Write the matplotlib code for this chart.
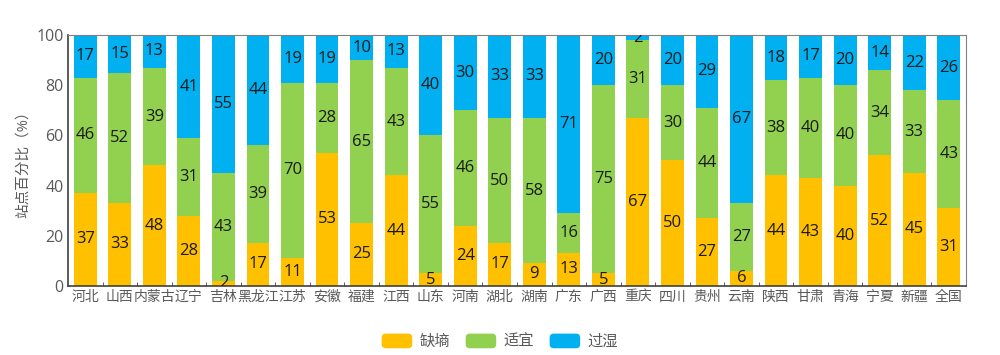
import numpy as np
import matplotlib.pyplot as plt
from matplotlib.ticker import FixedLocator
from matplotlib.patches import FancyBboxPatch
from matplotlib.legend_handler import HandlerPatch

plt.rcParams['font.family'] = ['Open Sans', 'Noto Sans CJK SC', 'DejaVu Sans']

# 各省站点墒情百分比
provinces = ["河北", "山西", "内蒙古", "辽宁", "吉林", "黑龙江", "江苏", "安徽", "福建", "江西",
             "山东", "河南", "湖北", "湖南", "广东", "广西", "重庆", "四川", "贵州", "云南",
             "陕西", "甘肃", "青海", "宁夏", "新疆", "全国"]
dry = [37, 33, 48, 28, 2, 17, 11, 53, 25, 44, 5, 24, 17, 9, 13, 5, 67, 50, 27, 6, 44, 43, 40, 52, 45, 31]
ok = [46, 52, 39, 31, 43, 39, 70, 28, 65, 43, 55, 46, 50, 58, 16, 75, 31, 30, 44, 27, 38, 40, 40, 34, 33, 43]
wet = [17, 15, 13, 41, 55, 44, 19, 19, 10, 13, 40, 30, 33, 33, 71, 20, 2, 20, 29, 67, 18, 17, 20, 14, 22, 26]

names = ["缺墒", "适宜", "过湿"]
colors = ["#FFC000", "#92D050", "#00B0F0"]


class RoundHandler(HandlerPatch):
    # legend keys with rounded corners
    def create_artists(self, legend, orig_handle, xdescent, ydescent, width, height, fontsize, trans):
        p = FancyBboxPatch((-xdescent, -ydescent), width, height,
                           boxstyle="round,pad=0,rounding_size=3",
                           facecolor=orig_handle.get_facecolor(), edgecolor='none',
                           transform=trans)
        return [p]


fig = plt.figure(figsize=(10, 3.55), dpi=100)
ax = fig.add_axes([0.068, 0.195, 0.898, 0.706])

x = np.arange(len(provinces))
bottom = np.zeros(len(provinces))
handles = []
for vals, name, c in zip([dry, ok, wet], names, colors):
    vals = np.array(vals)
    bars = ax.bar(x, vals, 0.66, bottom=bottom, color=c, label=name)
    handles.append(bars[0])
    for xi, b, v in zip(x, bottom, vals):
        ax.text(xi, b + v / 2, str(v), ha='center', va='center', fontsize=12,
                color='#1a1a1a', clip_on=True)
    bottom += vals

ax.set_xlim(-0.5, len(provinces) - 0.5)
ax.set_ylim(0, 100)
ax.set_yticks([0, 20, 40, 60, 80, 100])
ax.set_xticks(x)
ax.set_xticklabels(provinces)
ax.xaxis.set_minor_locator(FixedLocator(np.arange(0.5, len(provinces) - 1, 1)))
ax.tick_params(axis='x', which='major', length=0, pad=3, labelsize=10, labelcolor='#595959')
ax.tick_params(axis='x', which='minor', direction='in', length=3, color='#404040')
ax.tick_params(axis='y', length=0, labelsize=11.5, labelcolor='#595959', pad=3)
ax.set_ylabel("站点百分比（%）", fontsize=10.5, color='#595959', labelpad=4)

for s in ['top', 'right']:
    ax.spines[s].set_color('#808080')
    ax.spines[s].set_linewidth(0.8)
for s in ['left', 'bottom']:
    ax.spines[s].set_color('#404040')
    ax.spines[s].set_linewidth(1.2)

leg = fig.legend(handles, names, loc='lower center', bbox_to_anchor=(0.5, -0.025), ncol=3,
                 frameon=False, fontsize=11, handlelength=2.0, handleheight=1.1,
                 columnspacing=1.0, handletextpad=0.5,
                 handler_map={h: RoundHandler() for h in handles})
for t in leg.get_texts():
    t.set_color('#595959')

fig.savefig("out.png", dpi=100)
